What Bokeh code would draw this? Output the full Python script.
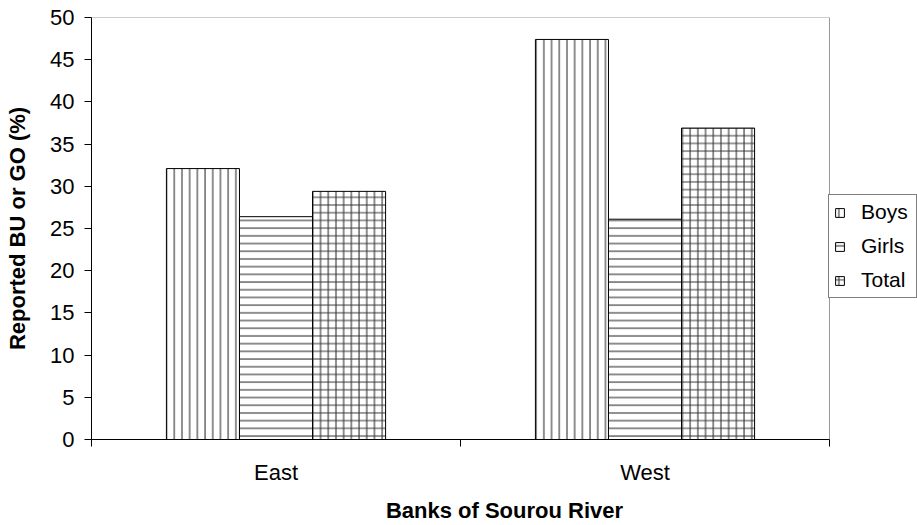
from bokeh.plotting import figure
from bokeh.models import FixedTicker, Range1d, ColumnDataSource, Legend, LegendItem
from bokeh.transform import dodge
from bokeh.embed import file_html
from bokeh.resources import INLINE

categories = ["East", "West"]
boys = [32.1, 47.4]
girls = [26.4, 26.1]
total = [29.4, 36.9]
y_ticks = [0, 5, 10, 15, 20, 25, 30, 35, 40, 45, 50]
series_names = ["Boys", "Girls", "Total"]

FONT = "Liberation Sans"
W, H = 917, 525
LEFT, TOP, PLOT_RIGHT, BOTTOM = 91, 17, 829, 440
n = len(categories)
y_max = y_ticks[-1]
# frame extends to the figure's right edge so the legend can sit beside the plot area
x_end = n * (W - LEFT) / (PLOT_RIGHT - LEFT)
centers = [i + 0.5 for i in range(n)]
src = ColumnDataSource(dict(x=centers, Boys=boys, Girls=girls, Total=total))

p = figure(width=W, height=H, output_backend="svg", toolbar_location=None,
           x_range=Range1d(0, x_end), y_range=Range1d(0, y_max),
           min_border_left=LEFT, min_border_right=0, min_border_top=TOP,
           min_border_bottom=H - BOTTOM)
p.outline_line_color = None
p.grid.visible = False

# plot-area border (gray top/right; left/bottom covered by axes)
p.quad(left=[0], right=[n], bottom=[0], top=[y_max], fill_color=None,
       line_color="#999999", line_width=1)

bw = 0.198
patterns = {"Boys": "vertical_line", "Girls": "horizontal_line", "Total": "cross"}
offsets = {"Boys": -bw, "Girls": 0.0, "Total": bw}
renderers = {}
for name in series_names:
    r = p.vbar(x=dodge("x", offsets[name], range=p.x_range), top=name, width=bw, bottom=0,
               source=src, fill_color="white", line_color="black", line_width=1,
               hatch_pattern=patterns[name], hatch_color="#333333", hatch_scale=7.7,
               hatch_weight=1.1)
    renderers[name] = r

# y axis
ya = p.yaxis[0]
ya.ticker = FixedTicker(ticks=y_ticks)
ya.major_tick_out = 7
ya.major_tick_in = 0
ya.minor_tick_out = 0
ya.minor_tick_in = 0
ya.axis_line_color = "black"
ya.major_label_text_font = FONT
ya.major_label_text_font_size = "22px"
ya.major_label_text_color = "black"
ya.major_label_standoff = 10
ya.axis_label = "Reported BU or GO (%)"
ya.axis_label_text_font = FONT
ya.axis_label_text_font_size = "22px"
ya.axis_label_text_font_style = "bold"
ya.axis_label_text_color = "black"
ya.axis_label_standoff = 17

# x axis: labels at centers, ticks at category boundaries
xa = p.xaxis[0]
xa.bounds = (0, n)
xa.ticker = FixedTicker(ticks=centers, minor_ticks=list(range(n + 1)))
xa.major_label_overrides = {c: lab for c, lab in zip(centers, categories)}
xa.major_tick_out = 0
xa.major_tick_in = 0
xa.minor_tick_out = 7
xa.minor_tick_in = 0
xa.axis_line_color = "black"
xa.major_label_text_font = FONT
xa.major_label_text_font_size = "22px"
xa.major_label_text_color = "black"
xa.major_label_standoff = 13
xa.axis_label = "Banks of Sourou River"
xa.axis_label_text_font = FONT
xa.axis_label_text_font_size = "22px"
xa.axis_label_text_font_style = "bold"
xa.axis_label_text_color = "black"
xa.axis_label_standoff = 10

legend = Legend(items=[LegendItem(label=s, renderers=[renderers[s]]) for s in series_names],
                location=(PLOT_RIGHT - LEFT - 1, BOTTOM - 299), orientation="vertical",
                border_line_color="black", border_line_width=1,
                background_fill_color="white", background_fill_alpha=1.0,
                label_text_font=FONT, label_text_font_size="21px", label_text_color="black",
                glyph_width=11, glyph_height=11, label_standoff=16, label_width=50,
                padding=5, spacing=10, margin=0, label_height=24)
p.add_layout(legend, "center")

open("out.html", "w").write(file_html(p, INLINE))
